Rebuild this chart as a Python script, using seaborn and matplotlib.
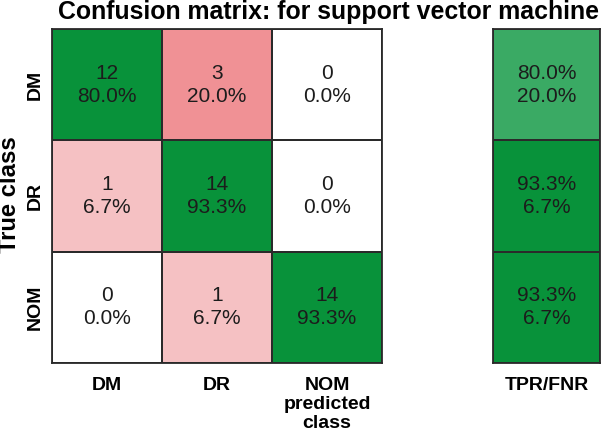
import numpy as np
import seaborn as sns
import matplotlib
matplotlib.use("Agg")
import matplotlib.pyplot as plt
from matplotlib.colors import ListedColormap

# data
classes = ["DM", "DR", "NOM"]
counts = [[12, 3, 0],
          [1, 14, 0],
          [0, 1, 14]]
tpr = [80.0, 93.3, 93.3]
fnr = [20.0, 6.7, 6.7]
x_ticks = ["DM", "DR", "NOM\npredicted\nclass"]
side_tick = ["TPR/FNR"]

GREEN = "#08923a"
LIGHT_GREEN = "#3aaa64"
SALMON = "#f09195"
PINK = "#f5c1c3"
WHITE = "#ffffff"
EDGE = "#2a2a2a"


def cell_colour(i, j, n):
    if i == j:
        return GREEN
    if n == 0:
        return WHITE
    return SALMON if n >= 2 else PINK


def main():
    plt.rcParams["font.family"] = ["Liberation Sans", "DejaVu Sans"]
    cm = np.array(counts)
    row_tot = cm.sum(axis=1, keepdims=True)
    pct = 100 * cm / row_tot

    palette = []
    idx = np.zeros(cm.shape, dtype=int)
    for i in range(cm.shape[0]):
        for j in range(cm.shape[1]):
            c = cell_colour(i, j, cm[i, j])
            if c not in palette:
                palette.append(c)
            idx[i, j] = palette.index(c)
    annot = np.array([[f"{cm[i, j]}\n{pct[i, j]:.1f}%" for j in range(3)] for i in range(3)])

    side_cols = [LIGHT_GREEN if t < 90 else GREEN for t in tpr]
    side_pal = list(dict.fromkeys(side_cols))
    side_idx = np.array([[side_pal.index(c)] for c in side_cols])
    side_annot = np.array([[f"{t:.1f}%\n{f:.1f}%"] for t, f in zip(tpr, fnr)])

    fig = plt.figure(figsize=(6.04, 4.34), dpi=100)
    W, H = 604, 434
    ax1 = fig.add_axes([52 / W, 1 - 363 / H, 330 / W, 334 / H])
    ax2 = fig.add_axes([493 / W, 1 - 363 / H, 107 / W, 334 / H])

    kw = dict(fmt="", cbar=False, linewidths=1.3, linecolor=EDGE,
              annot_kws=dict(fontsize=15, color="#1c1c1c", linespacing=1.25))
    sns.heatmap(idx, cmap=ListedColormap(palette), vmin=-0.5, vmax=len(palette) - 0.5,
                annot=annot, ax=ax1, **kw)
    sns.heatmap(side_idx, cmap=ListedColormap(side_pal), vmin=-0.5, vmax=len(side_pal) - 0.5,
                annot=side_annot, ax=ax2, **kw)

    for ax in (ax1, ax2):
        for s in ax.spines.values():
            s.set_visible(True)
            s.set_color(EDGE)
            s.set_linewidth(1.3)
        ax.tick_params(length=0)

    tick_font = dict(fontsize=14, fontweight="bold")
    ax1.set_xticklabels(x_ticks, rotation=0, va="top", linespacing=1.17, **tick_font)
    ax1.tick_params(axis="x", pad=10)
    ax1.set_yticklabels(classes, rotation=90, va="center", **tick_font)
    ax1.tick_params(axis="y", pad=6)
    ax2.set_xticklabels(side_tick, rotation=0, va="top", **tick_font)
    ax2.tick_params(axis="x", pad=10)
    ax2.set_yticks([])

    fig.text(10 / W, 1 - 195 / H, "True class", rotation=90, ha="center", va="center",
             fontsize=17.2, fontweight="bold")
    fig.text(328 / W, 1 - 12 / H, "Confusion matrix: for support vector machine",
             ha="center", va="center", fontsize=17.9, fontweight="bold")

    fig.savefig("out.png", dpi=100)


if __name__ == "__main__":
    main()
